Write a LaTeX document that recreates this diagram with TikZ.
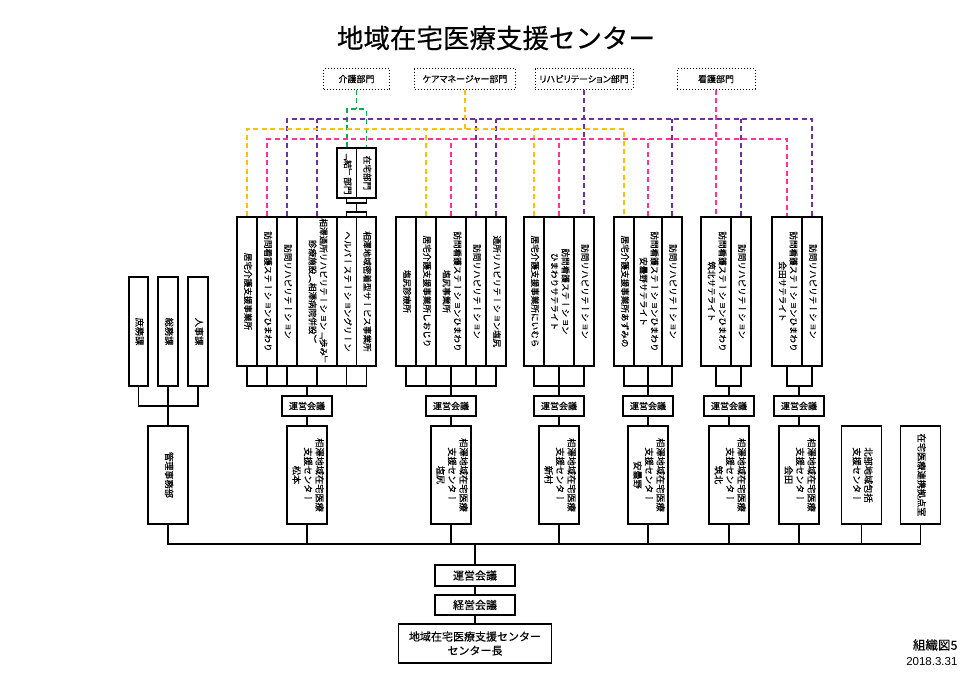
\documentclass[tikz,border=0pt]{standalone}
\usepackage{fontspec}
\usepackage{graphicx}
\usepackage{xcolor}
\usepackage{tikz}
\usetikzlibrary{positioning}
\setmainfont[FakeBold=0.4]{Noto Sans CJK JP}
\newfontfamily\propfont[FakeBold=0.4, RawFeature=+palt]{Noto Sans CJK JP}
\newfontfamily\tatefont[FakeBold=0.4, Vertical=RotatedGlyphs]{Noto Sans CJK JP}
\newfontfamily\datefont{Liberation Sans}
\newcommand\tate[1]{\rotatebox{-90}{\tatefont\begin{tabular}{@{}c@{}}#1\end{tabular}}}
\definecolor{purp}{RGB}{112,48,160}
\definecolor{orng}{RGB}{255,192,0}
\definecolor{pnk}{RGB}{255,51,153}
\definecolor{grn}{RGB}{0,176,80}

\begin{document}
\begin{tikzpicture}[x=1pt, y=-1pt, line width=1.1pt,
  deptbox/.style={draw, line width=1pt, dotted, minimum height=20pt, inner sep=0pt, font=\propfont\fontsize{9}{10}\selectfont},
  colbox/.style={draw, minimum height=149pt, inner sep=0pt, font=\fontsize{8.6}{11}\selectfont},
  kaigibox/.style={draw, minimum width=50pt, minimum height=20pt, inner sep=0pt, font=\fontsize{9}{10}\selectfont},
  sitebox/.style={draw, minimum width=40pt, minimum height=98pt, inner sep=0pt, font=\fontsize{9.2}{11.5}\selectfont},
  admbox/.style={draw, minimum width=20pt, minimum height=109pt, inner sep=0pt, font=\fontsize{9.2}{11.5}\selectfont},
  topbox/.style={draw, minimum width=80pt, minimum height=21pt, inner sep=0pt, font=\fontsize{11}{14}\selectfont},
  purpline/.style={purp, line width=1.5pt, dash pattern=on 5pt off 3.5pt},
  orngline/.style={orng, line width=1.5pt, dash pattern=on 5pt off 3.5pt},
  pnkline/.style={pnk, line width=1.5pt, dash pattern=on 5pt off 3.5pt},
  grnline/.style={grn, line width=1.5pt, dash pattern=on 5pt off 3.5pt}]
\useasboundingbox (0,0) rectangle (980,693);

% Title
\node[font=\fontsize{26.5}{30}\selectfont] (title) at (496,38) {地域在宅医療支援センター};

% Departments
\node[deptbox, minimum width=66pt] (kaigo) at (356.5,79) {介護部門};
\node[deptbox, minimum width=101pt] (care) at (465,79) {ケアマネージャー部門};
\node[deptbox, minimum width=98pt] (reha) at (584,79) {リハビリテーション部門};
\node[deptbox, minimum width=78pt] (kango) at (716,79) {看護部門};

% Yui / zaitaku
\node[colbox, minimum height=50pt, minimum width=19.5pt] (yui) at (346.75,173) {\tate{﹁結﹂部門}};
\node[colbox, minimum height=50pt, minimum width=19.5pt] (zai) at (366.25,173) {\tate{在宅部門}};

% Cluster 1
\node[colbox, minimum width=20pt] (c1a) at (247,291.5) {\tate{居宅介護支援事業所}};
\node[colbox, minimum width=20pt] (c1b) at (267,291.5) {\tate{訪問看護ステーションひまわり}};
\node[colbox, minimum width=20pt] (c1c) at (287,291.5) {\tate{訪問リハビリテーション}};
\node[colbox, minimum width=40pt] (c1d) at (317,291.5) {\tate{相澤通所リハビリテーション﹁歩み﹂\\診療施設︵相澤病院併設︶}};
\node[colbox, minimum width=19.5pt] (c1e) at (346.75,291.5) {\tate{ヘルパーステーショングリーン}};
\node[colbox, minimum width=19.5pt] (c1f) at (366.25,291.5) {\tate{相澤地域密着型サービス事業所}};

% Cluster 2
\node[colbox, minimum width=20pt] (c2a) at (406,291.5) {\tate{塩尻診療所}};
\node[colbox, minimum width=20pt] (c2b) at (426,291.5) {\tate{居宅介護支援事業所しおじり}};
\node[colbox, minimum width=30pt] (c2c) at (451,291.5) {\tate{訪問看護ステーションひまわり\\塩尻事業所}};
\node[colbox, minimum width=20pt] (c2d) at (476,291.5) {\tate{訪問リハビリテーション}};
\node[colbox, minimum width=20pt] (c2e) at (496,291.5) {\tate{通所リハビリテーション塩尻}};

% Cluster 3
\node[colbox, minimum width=20pt] (c3a) at (534,291.5) {\tate{居宅介護支援事業所にいむら}};
\node[colbox, minimum width=30pt] (c3b) at (559,291.5) {\tate{訪問看護ステーション\\ひまわりサテライト}};
\node[colbox, minimum width=20pt] (c3c) at (584,291.5) {\tate{訪問リハビリテーション}};

% Cluster 4
\node[colbox, minimum width=20pt] (c4a) at (624,291.5) {\tate{居宅介護支援事業所あずみの}};
\node[colbox, minimum width=28pt] (c4b) at (648,291.5) {\tate{訪問看護ステーションひまわり\\安曇野サテライト}};
\node[colbox, minimum width=20pt] (c4c) at (672,291.5) {\tate{訪問リハビリテーション}};

% Cluster 5
\node[colbox, minimum width=30pt] (c5a) at (716,291.5) {\tate{訪問看護ステーションひまわり\\筑北サテライト}};
\node[colbox, minimum width=20pt] (c5b) at (741,291.5) {\tate{訪問リハビリテーション}};

% Cluster 6
\node[colbox, minimum width=30pt] (c6a) at (787,291.5) {\tate{訪問看護ステーションひまわり\\会田サテライト}};
\node[colbox, minimum width=20pt] (c6b) at (812,291.5) {\tate{訪問リハビリテーション}};

% Meetings
\node[kaigibox] (u1) at (307,406) {運営会議};
\node[kaigibox] (u2) at (451,406) {運営会議};
\node[kaigibox] (u3) at (559,406) {運営会議};
\node[kaigibox] (u4) at (648,406) {運営会議};
\node[kaigibox] (u5) at (729,406) {運営会議};
\node[kaigibox] (u6) at (799,406) {運営会議};

% Centers
\node[sitebox] (s1) at (307,475) {\tate{相澤地域在宅医療\\支援センター\\松本}};
\node[sitebox] (s2) at (451,475) {\tate{相澤地域在宅医療\\支援センター\\塩尻}};
\node[sitebox] (s3) at (559,475) {\tate{相澤地域在宅医療\\支援センター\\新村}};
\node[sitebox] (s4) at (648,475) {\tate{相澤地域在宅医療\\支援センター\\安曇野}};
\node[sitebox] (s5) at (729,475) {\tate{相澤地域在宅医療\\支援センター\\筑北}};
\node[sitebox] (s6) at (799,475) {\tate{相澤地域在宅医療\\支援センター\\会田}};
\node[sitebox] (hokubu) at (861.5,475) {\tate{北部地域包括\\支援センター}};
\node[sitebox] (renkei) at (920.5,475) {\tate{在宅医療連携拠点室}};

% Administration
\node[admbox, minimum width=19pt] (shomu) at (138.5,331.5) {\tate{庶務課}};
\node[admbox] (soumu) at (168,331.5) {\tate{総務課}};
\node[admbox] (jinji) at (198,331.5) {\tate{人事課}};
\node[sitebox] (kanri) at (168,475) {\tate{管理事務部}};

% Head
\node[topbox] (un0) at (475,575.5) {運営会議};
\node[topbox, minimum height=20pt] (kei) at (475,605) {経営会議};
\node[topbox, minimum width=153pt, minimum height=39pt, align=center] (cho) at (475,643.5) {地域在宅医療支援センター\\センター長};

% Notes
\node[anchor=east, font=\fontsize{12.5}{14}\selectfont, inner sep=0pt] (fig) at (958,645) {組織図5};
\node[anchor=east, font=\datefont\fontsize{11.5}{13}\selectfont, inner sep=0pt] (date) at (958,662) {2018.3.31};

% Solid links
\coordinate (yz) at (356.5,203);
\coordinate (ef) at (356.5,212);
\draw (yui.south) |- (yz) -| (zai.south);
\draw (yz) -- (ef);
\draw (c1e.north) |- (ef) -| (c1f.north);

\coordinate (b1) at (307,386);
\draw (c1a.south) |- (b1) -| (c1f.south);
\foreach \c in {c1b,c1c,c1d,c1e} \draw (\c.south) -- (\c.south |- b1);
\coordinate (b2) at (451,386);
\draw (c2a.south) |- (b2) -| (c2e.south);
\foreach \c in {c2b,c2c,c2d} \draw (\c.south) -- (\c.south |- b2);
\coordinate (b3) at (559,386);
\draw (c3a.south) |- (b3) -| (c3c.south);
\draw (c3b.south) -- (b3);
\coordinate (b4) at (648,386);
\draw (c4a.south) |- (b4) -| (c4c.south);
\draw (c4b.south) -- (b4);
\coordinate (b5) at (729,386);
\draw (c5a.south) |- (b5) -| (c5b.south);
\coordinate (b6) at (799,386);
\draw (c6a.south) |- (b6) -| (c6b.south);
\foreach \i in {1,...,6} {
  \draw (b\i) -- (u\i.north);
  \draw (u\i.south) -- (s\i.north);
}

\coordinate (ab) at (168,406);
\draw (shomu.south) |- (ab) -| (jinji.south);
\draw (soumu.south) -- (kanri.north);

\coordinate (mb) at (475,544);
\draw (kanri.south) |- (mb) -| (renkei.south);
\foreach \c in {s1,s2,s3,s4,s5,s6,hokubu} \draw (\c.south) -- (\c.south |- mb);
\draw (mb) -- (un0.north);
\draw (un0.south) -- (kei.north);
\draw (kei.south) -- (cho.north);

% Dashed links
\coordinate (g0) at (356.5,109);
\draw[grnline] (kaigo.south) -- (g0);
\draw[grnline] (yui.north) |- (g0) -| (zai.north);

\coordinate (pb) at (584,119);
\draw[purpline] (c1c.north) |- (pb) -| (c6b.north);
\draw[purpline] (reha.south) -- (c3c.north);
\foreach \c in {c1d,c2d,c2e,c4c,c5b} \draw[purpline] (\c.north) -- (\c.north |- pb);

\coordinate (ob) at (465,129);
\draw[orngline] (care.south) -- (ob);
\draw[orngline] (c1a.north) |- (ob) -| (c4a.north);
\foreach \c in {c2b,c3a} \draw[orngline] (\c.north) -- (\c.north |- ob);

\coordinate (kb) at (716,139);
\draw[pnkline] (kango.south) -- (c5a.north);
\draw[pnkline] (c1b.north) |- (kb) -| (c6a.north);
\foreach \c in {c2c,c3b,c4b} \draw[pnkline] (\c.north) -- (\c.north |- kb);
\end{tikzpicture}
\end{document}
